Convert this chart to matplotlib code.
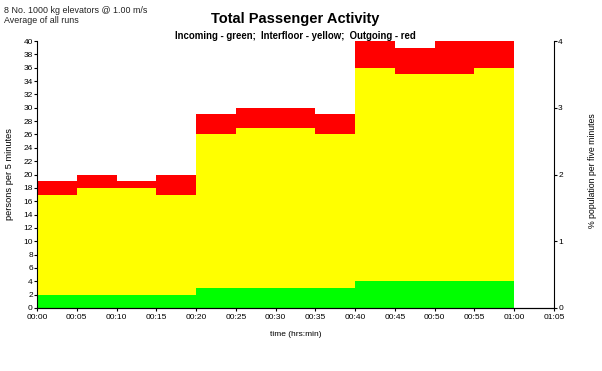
import matplotlib
matplotlib.use('Agg')
import matplotlib.pyplot as plt
import numpy as np

plt.rcParams['font.family'] = ['Liberation Sans', 'DejaVu Sans']

# data, 5 minute intervals
starts = [0, 5, 10, 15, 20, 25, 30, 35, 40, 45, 50, 55]
incoming = [2, 2, 2, 2, 3, 3, 3, 3, 4, 4, 4, 4]
interfloor = [15, 16, 16, 15, 23, 24, 24, 23, 32, 31, 31, 32]
outgoing = [2, 2, 1, 3, 3, 3, 3, 3, 4, 4, 5, 4]
xticklabels = ['00:00', '00:05', '00:10', '00:15', '00:20', '00:25', '00:30',
               '00:35', '00:40', '00:45', '00:50', '00:55', '01:00', '01:05']

fig = plt.figure(figsize=(6.02, 3.71), dpi=100)
ax = fig.add_axes([37/602, 63/371, (554-37)/602, (308-41)/371])

inc = np.array(incoming)
itf = np.array(interfloor)
out = np.array(outgoing)
kw = dict(width=5, align='edge', linewidth=0, antialiased=False)
ax.bar(starts, inc, color='#00ff00', **kw)
ax.bar(starts, itf, bottom=inc, color='#ffff00', **kw)
ax.bar(starts, out, bottom=inc + itf, color='#ff0000', **kw)

ax.set_xlim(0, 65)
ax.set_ylim(0, 40)
ax.set_xticks(np.arange(0, 66, 5))
ax.set_xticklabels(xticklabels)
ax.set_yticks(np.arange(0, 41, 2))
ax.spines['top'].set_visible(False)
ax.spines['right'].set_visible(False)
ax.tick_params(labelsize=6, length=2, width=0.8, pad=1, colors='black')
ax.tick_params(axis='x', pad=2.5)
ax.set_ylabel('persons per 5 minutes', fontsize=6.7, labelpad=7)
ax.set_xlabel('time (hrs:min)', fontsize=6, labelpad=7)

ax2 = ax.twinx()
ax2.set_ylim(0, 4)
ax2.set_yticks([0, 1, 2, 3, 4])
ax2.spines['top'].set_visible(False)
ax2.spines['left'].set_visible(False)
ax2.tick_params(labelsize=6, length=2, width=0.8, pad=1)
ax2.set_ylabel('% population per five minutes', fontsize=6.3, rotation=90)
ax2.yaxis.set_label_coords(1.066, 0.515)

fig.text(0.006, 0.985, '8 No. 1000 kg elevators @ 1.00 m/s', fontsize=6.4, va='top', color='#222222')
fig.text(0.006, 0.958, 'Average of all runs', fontsize=6.4, va='top', color='#222222')
fig.text(0.49, 0.949, 'Total Passenger Activity', fontsize=10.5, fontweight='bold',
         ha='center', va='center')
fig.text(0.49, 0.903, 'Incoming - green;  Interfloor - yellow;  Outgoing - red',
         fontsize=6.9, fontweight='bold', ha='center', va='center')

fig.savefig('out.png', dpi=100)
